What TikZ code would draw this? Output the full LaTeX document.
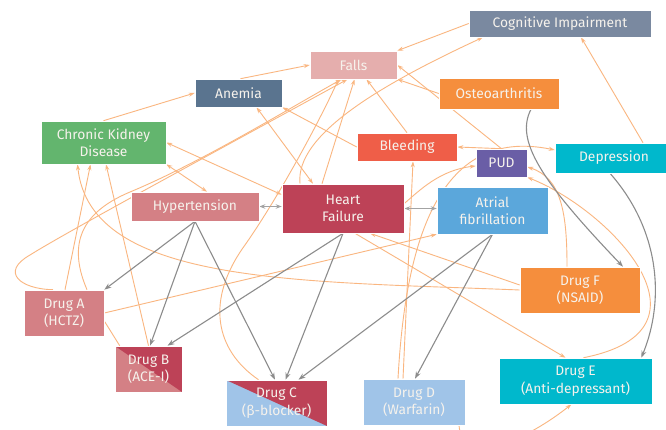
\documentclass[tikz,border=0pt]{standalone}
\usepackage{fontspec}
\setmainfont{Fira Sans}
\usetikzlibrary{arrows.meta,calc}

\definecolor{cCog}{RGB}{122,137,160}
\definecolor{cFalls}{RGB}{229,174,173}
\definecolor{cAnemia}{RGB}{90,116,143}
\definecolor{cOrange}{RGB}{245,142,61}
\definecolor{cCkd}{RGB}{99,181,110}
\definecolor{cBleed}{RGB}{239,94,72}
\definecolor{cPud}{RGB}{106,94,166}
\definecolor{cCyan}{RGB}{0,184,204}
\definecolor{cRose}{RGB}{212,128,133}
\definecolor{cHf}{RGB}{189,66,87}
\definecolor{cAf}{RGB}{91,167,219}
\definecolor{cSky}{RGB}{160,196,232}
\definecolor{cTxt}{RGB}{246,242,236}
\definecolor{cRel}{RGB}{250,182,128}
\definecolor{cMed}{RGB}{140,140,140}

\pgfdeclarelayer{background}
\pgfsetlayers{background,main}

\begin{document}
\begin{tikzpicture}[x=1pt,y=-1pt,
  box/.style={inner sep=0pt, align=center, text=cTxt,
    font=\fontsize{13.8}{17.5}\selectfont, draw=white, line width=0.6pt},
  splitfill/.style={path picture={\fill[#1]
    (path picture bounding box.north west) --
    (path picture bounding box.north east) --
    (path picture bounding box.south east) -- cycle;}},
  rel/.style={draw=cRel, line width=0.9pt, -{Stealth[length=6pt,width=4pt]}},
  relboth/.style={draw=cRel, line width=0.9pt,
    {Stealth[length=6pt,width=4pt]}-{Stealth[length=6pt,width=4pt]}},
  plain/.style={draw=cRel, line width=0.9pt},
  med/.style={draw=cMed, line width=1.1pt, -{Stealth[length=7pt,width=5pt]}},
  medboth/.style={draw=cMed!80, line width=1.1pt,
    {Stealth[length=6pt,width=4.5pt]}-{Stealth[length=6pt,width=4.5pt]}}]

\useasboundingbox (0,0) rectangle (666,430);
\clip (0,0) rectangle (666,430);

% conditions
\node[box, fill=cCog, minimum width=182pt, minimum height=27pt] (cog) at (560,23.5) {Cognitive Impairment};
\node[box, fill=cFalls, minimum width=87pt, minimum height=28pt] (falls) at (353.5,65) {Falls};
\node[box, fill=cAnemia, minimum width=87pt, minimum height=28pt] (anemia) at (238.5,93) {Anemia};
\node[box, fill=cOrange, minimum width=120pt, minimum height=31pt] (osteo) at (499,93.5) {Osteoarthritis};
\node[box, fill=cCkd, minimum width=125pt, minimum height=43pt] (ckd) at (103.5,142.5) {Chronic Kidney\\Disease};
\node[box, fill=cBleed, minimum width=100pt, minimum height=28pt] (bleed) at (407,147) {Bleeding};
\node[box, fill=cPud, minimum width=51pt, minimum height=28pt] (pud) at (501.5,163) {PUD};
\node[box, fill=cCyan, minimum width=118pt, minimum height=30pt] (dep) at (614,158) {Depression};
\node[box, fill=cRose, minimum width=128pt, minimum height=29pt] (htn) at (195,206.5) {Hypertension};
\node[box, fill=cHf, minimum width=122pt, minimum height=49pt] (hf) at (343,208.5) {Heart\\Failure};
\node[box, fill=cAf, minimum width=111pt, minimum height=47pt] (af) at (492.5,210.5) {Atrial\\fibrillation};

% drugs
\node[box, fill=cOrange, minimum width=120pt, minimum height=46pt] (drugF) at (580,290) {Drug F\\(NSAID)};
\node[box, fill=cRose, minimum width=80pt, minimum height=46pt] (drugA) at (64,313) {Drug A\\(HCTZ)};
\node[box, fill=cRose, splitfill=cHf, minimum width=67pt, minimum height=46pt] (drugB) at (148.5,369) {Drug B\\(ACE-I)};
\node[box, fill=cSky, splitfill=cHf, minimum width=101pt, minimum height=46pt] (drugC) at (276.5,403) {Drug C\\(β-blocker)};
\node[box, fill=cSky, minimum width=102pt, minimum height=46pt] (drugD) at (414,402) {Drug D\\(Warfarin)};
\node[box, fill=cCyan, minimum width=153pt, minimum height=46pt] (drugE) at (575.5,381) {Drug E\\(Anti-depressant)};

\begin{pgfonlayer}{background}
\fill[white] (0,0) rectangle (666,430);

% relations between conditions and drugs
\draw[rel] (cog.west) -- (falls.north east);
\draw[rel] ([xshift=-43pt]hf.north) .. controls (295,135) and (380,85) .. ([xshift=-77pt]cog.south);
\draw[rel] ([xshift=29pt]dep.north) -- ([xshift=21pt]cog.south);
\draw[rel] ([xshift=2pt]anemia.north) -- (falls.west);
\draw[rel] (ckd.north) -- (anemia.west);
\draw[relboth] ([xshift=18pt]anemia.south) -- ([xshift=-30pt]hf.north);
\draw[rel] (bleed.west) -- (anemia.south east);
\draw[rel] (bleed.north) -- ([xshift=13pt]falls.south);
\draw[rel] (osteo.west) -- (falls.south east);
\draw[rel] (pud.north) -- (falls.east);
\draw[rel] (pud.north) -- (bleed.east);
\draw[rel] ([xshift=-16pt]drugD.north) .. controls (405,250) and (435,125) .. ([yshift=8pt]dep.west);
\draw[rel] ([xshift=-11pt]drugD.north) -- ([xshift=6pt]bleed.south);
\draw[rel] ([yshift=5pt]hf.east) .. controls (420,190) and (440,170) .. ([yshift=-3pt]pud.west);
\draw[rel] ([xshift=-13pt]drugF.north) .. controls (567,215) and (562,178) .. ([yshift=-4pt]pud.east);
\draw[rel] ([xshift=8pt]drugE.north) .. controls (725,330) and (610,210) .. (pud.south east);
\draw[relboth] (ckd.south east) -- ([xshift=12pt]htn.north);
\draw[relboth] (ckd.east) -- ([yshift=-11pt]hf.north west);
\draw[rel] ([xshift=1pt]drugA.north) -- ([xshift=-13pt]ckd.south);
\draw[rel] (drugB.north) -- ([xshift=2.5pt]ckd.south);
\draw[rel] (drugF.west) .. controls (300,281) and (90,285) .. ([xshift=-26pt]ckd.south);
\draw[rel] ([xshift=23pt]drugA.north) .. controls (70,250) and (75,215) .. (130,192)
  .. controls (200,163) and (290,108) .. ([xshift=-12pt]falls.south);
\draw[rel] ([xshift=-11pt]drugA.north) .. controls (20,289) and (0,272) .. (30,255)
  .. controls (65,233) and (200,160) .. ([xshift=-6pt]falls.south);
\draw[rel] ([xshift=-18pt]drugC.north) .. controls (215,350) and (205,300) .. (245,245)
  .. controls (280,195) and (320,120) .. ([xshift=-15pt]falls.south);
\draw[rel] ([xshift=-21pt]hf.north) -- ([xshift=1pt]falls.south);
\draw[rel] (drugA.east) -- (af.south west);
\draw[rel] ([yshift=5pt]drugF.west) -- ([xshift=27pt]hf.south);
\draw[rel] ([xshift=12pt]hf.south) -- ([xshift=-10pt]drugE.north);
\draw[plain] ([yshift=-8pt]drugA.east) -- ([xshift=5pt]drugB.north west);
\draw[rel] ([xshift=45pt]drugD.south) .. controls (462,465) and (520,445) .. ([xshift=-4pt]drugE.south);

% treatments
\draw[med] (htn.south) -- (drugA.north east);
\draw[med] (htn.south) -- ([xshift=1.5pt]drugB.north);
\draw[med] (htn.south) -- ([xshift=-1.5pt]drugC.north);
\draw[med] (hf.south) -- ([xshift=19pt]drugB.north);
\draw[med] (hf.south) -- ([xshift=9pt]drugC.north);
\draw[med] (af.south) -- ([xshift=22pt]drugC.north);
\draw[med] (af.south) -- ([xshift=1pt]drugD.north);
\draw[medboth] (htn.east) -- (htn.east -| hf.west);
\draw[medboth] (hf.east) -- (hf.east -| af.west);
\draw[med] ([xshift=32pt]osteo.south) .. controls (515,140) and (540,180) .. ([xshift=43pt]drugF.north);
\draw[med] ([xshift=-4pt]dep.south) .. controls (660,230) and (665,300) .. ([xshift=-11pt]drugE.north east);
\end{pgfonlayer}
\end{tikzpicture}
\end{document}
